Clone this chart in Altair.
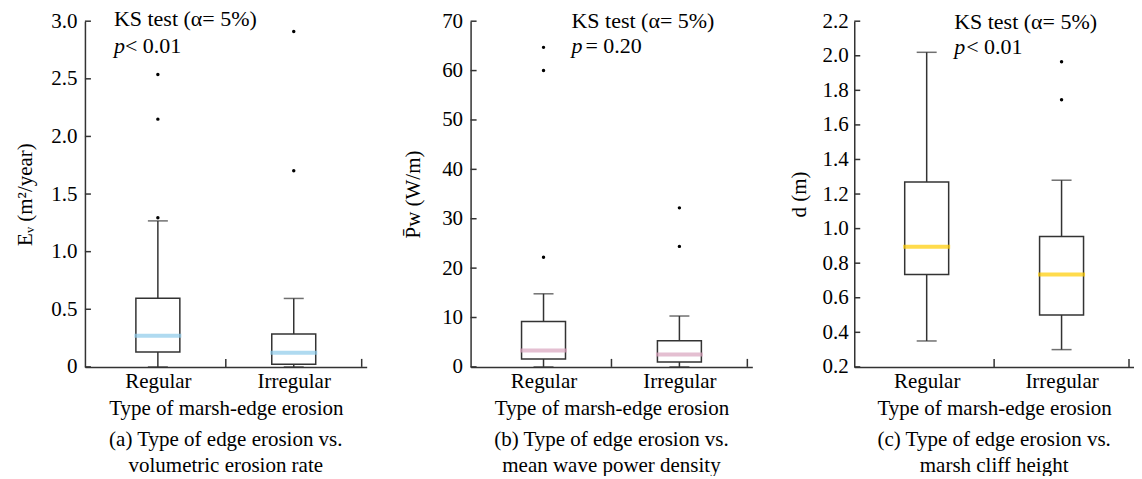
import altair as alt
import pandas as pd

FONT = "Liberation Serif"
INK = "#333333"
FS = 21

cats = ["Regular", "Irregular"]
x_title = "Type of marsh-edge erosion"

# (a) volumetric erosion rate
a_low = [0.0, 0.0]
a_q1 = [0.13, 0.023]
a_med = [0.27, 0.123]
a_q3 = [0.595, 0.286]
a_high = [1.267, 0.594]
a_out_g = ["Regular", "Regular", "Regular", "Irregular", "Irregular"]
a_out_v = [1.295, 2.15, 2.537, 1.703, 2.91]
a_ticks = [0, 0.5, 1.0, 1.5, 2.0, 2.5, 3.0]
a_ytitle = "Eᵥ (m²/year)"
a_ks = ["KS test (α= 5%)", "p", "< 0.01"]
a_caption = ["(a) Type of edge erosion vs.", "volumetric erosion rate"]

# (b) mean wave power density
b_low = [0.0, 0.0]
b_q1 = [1.6, 1.0]
b_med = [3.3, 2.5]
b_q3 = [9.2, 5.3]
b_high = [14.8, 10.3]
b_out_g = ["Regular", "Regular", "Regular", "Irregular", "Irregular"]
b_out_v = [22.2, 60.0, 64.7, 24.4, 32.2]
b_ticks = [0, 10, 20, 30, 40, 50, 60, 70]
b_ytitle = "P\u0304w (W/m)"
b_ks = ["KS test (α= 5%)", "p", "= 0.20"]
b_caption = ["(b) Type of edge erosion vs.", "mean wave power density"]

# (c) marsh cliff height
c_low = [0.35, 0.30]
c_q1 = [0.735, 0.50]
c_med = [0.895, 0.735]
c_q3 = [1.27, 0.955]
c_high = [2.02, 1.28]
c_out_g = ["Irregular", "Irregular"]
c_out_v = [1.745, 1.965]
c_ticks = [0.2, 0.4, 0.6, 0.8, 1.0, 1.2, 1.4, 1.6, 1.8, 2.0, 2.2]
c_ytitle = "d (m)"
c_ks = ["KS test (α= 5%)", "p", "< 0.01"]
c_caption = ["(c) Type of edge erosion vs.", "marsh cliff height"]

H = 346


def panel(low, q1, med, q3, high, out_g, out_v, ticks, fmt, ytitle, color,
          ks, caption, width, title_pad, label_pad, ks_x, ks_y1, ks_y2, p_dx):
    pos = {c: i + 0.5 for i, c in enumerate(cats)}
    box = pd.DataFrame({"g": cats, "x": [pos[c] for c in cats], "low": low,
                        "q1": q1, "med": med, "q3": q3, "high": high})
    outs = pd.DataFrame({"x": [pos[g] for g in out_g], "v": out_v})
    tick_df = pd.DataFrame({"v": ticks})
    bound_df = pd.DataFrame({"b": [1.0, 2.0]})

    xs = alt.Scale(domain=[0, 2], nice=False, zero=False)
    ys = alt.Scale(domain=[ticks[0], ticks[-1]], nice=False, zero=False)
    yaxis = alt.Axis(values=ticks, labelExpr=fmt, ticks=False, grid=False,
                     title=ytitle, titlePadding=title_pad, labelPadding=label_pad,
                     minExtent=36, maxExtent=36, labelFlush=False,
                     labelFont=FONT, titleFont=FONT, labelFontSize=FS, titleFontSize=FS)
    xaxis = alt.Axis(values=[0.5, 1.5],
                     labelExpr="datum.value < 1 ? 'Regular' : 'Irregular'",
                     ticks=False, grid=False, title=x_title, labelPadding=4,
                     titlePadding=6, labelFlush=False,
                     labelFont=FONT, titleFont=FONT, labelFontSize=FS, titleFontSize=FS)

    def X(f):
        return alt.X(f, scale=xs, axis=xaxis)

    def Y(f):
        return alt.Y(f, scale=ys, axis=yaxis)

    base = alt.Chart(box)
    whisk = base.mark_rule(color=INK, strokeWidth=1.5).encode(
        x=X("x:Q"), y=Y("low:Q"), y2="high:Q")
    cap_lo = base.mark_tick(orient="horizontal", size=20, thickness=1.5, color=INK).encode(
        x=X("x:Q"), y=Y("low:Q"))
    cap_hi = base.mark_tick(orient="horizontal", size=20, thickness=1.5, color=INK).encode(
        x=X("x:Q"), y=Y("high:Q"))
    rect = base.mark_bar(fill="white", stroke=INK, strokeWidth=1.5, size=44).encode(
        x=X("x:Q"), y=Y("q1:Q"), y2="q3:Q")
    medl = base.mark_tick(orient="horizontal", size=47, thickness=4, color=color).encode(
        x=X("x:Q"), y=Y("med:Q"))
    pts = alt.Chart(outs).mark_circle(size=12, color="black", opacity=1).encode(
        x=X("x:Q"), y=Y("v:Q"))
    yt = alt.Chart(tick_df).mark_rule(color=INK, strokeWidth=1.5).encode(
        y=Y("v:Q"), x=alt.value(0), x2=alt.value(6))
    xt = alt.Chart(bound_df).mark_rule(color=INK, strokeWidth=1.5).encode(
        x=X("b:Q"), y=alt.value(H), y2=alt.value(H - 8))

    ks_df = pd.DataFrame({"t": [ks[0]]})
    p_df = pd.DataFrame({"t": [ks[1]]})
    r_df = pd.DataFrame({"t": [ks[2]]})
    t1 = alt.Chart(ks_df).mark_text(align="left", baseline="alphabetic", font=FONT,
                                    fontSize=22, color="black").encode(
        x=alt.value(ks_x), y=alt.value(ks_y1), text="t:N")
    t2 = alt.Chart(p_df).mark_text(align="left", baseline="alphabetic", font=FONT,
                                   fontSize=22, fontStyle="italic", color="black").encode(
        x=alt.value(ks_x), y=alt.value(ks_y2), text="t:N")
    t3 = alt.Chart(r_df).mark_text(align="left", baseline="alphabetic", font=FONT,
                                   fontSize=22, color="black").encode(
        x=alt.value(ks_x + p_dx), y=alt.value(ks_y2), text="t:N")

    return alt.layer(whisk, cap_lo, cap_hi, rect, medl, pts, yt, xt, t1, t2, t3).properties(
        width=width, height=H,
        title=alt.TitleParams(caption, orient="bottom", anchor="middle", fontSize=FS,
                              font=FONT, fontWeight="normal", color="black",
                              offset=10, lineHeight=26))


pa = panel(a_low, a_q1, a_med, a_q3, a_high, a_out_g, a_out_v, a_ticks,
           "datum.value == 0 ? '0' : format(datum.value, '.1f')", a_ytitle, "#8dcbea",
           a_ks, a_caption, 282, 13, 8, 29, 5, 32, 11)
pb = panel(b_low, b_q1, b_med, b_q3, b_high, b_out_g, b_out_v, b_ticks,
           "format(datum.value, 'd')", b_ytitle, "#d8a4be",
           b_ks, b_caption, 282, 11, 8, 101, 7, 32, 14)
pc = panel(c_low, c_q1, c_med, c_q3, c_high, c_out_g, c_out_v, c_ticks,
           "format(datum.value, '.1f')", c_ytitle, "#ffcc00",
           c_ks, c_caption, 280, 9, 6, 100, 8, 33, 12)

chart = alt.hconcat(pa, pb, pc, spacing=36).properties(
    padding={"left": 7, "top": 0, "right": 0, "bottom": 0}
).configure_view(stroke=None).configure_axis(
    labelFont=FONT, titleFont=FONT, labelFontSize=FS, titleFontSize=FS,
    titleFontWeight="normal", labelColor="black", titleColor="black",
    domainColor=INK, domainWidth=1.5
)

chart.save("out.html", embed_options={"renderer": "svg", "actions": False})
